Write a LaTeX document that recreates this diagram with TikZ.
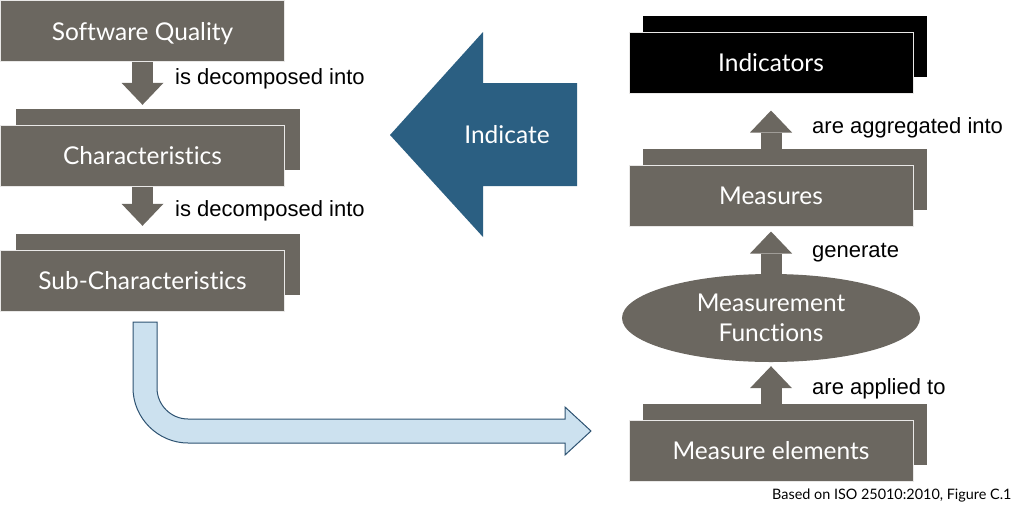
\documentclass[tikz,border=0pt]{standalone}
\usepackage{tikz}
\usepackage{fontspec}
\setmainfont{Lato}[Ligatures=NoCommon]
\newfontfamily\arialfont{Liberation Sans}
\usetikzlibrary{shapes, calc, arrows.meta, positioning}

\definecolor{boxgray}{HTML}{6B6760}
\definecolor{indblue}{HTML}{2B5F82}
\definecolor{flowfill}{HTML}{CCE1EF}
\definecolor{flowline}{HTML}{2E5372}

\begin{document}
\begin{tikzpicture}[x=1pt, y=-1pt,
	frontbox/.style={fill=boxgray, draw=white!85!boxgray, line width=1pt, minimum width=284pt, minimum height=61pt, inner sep=0pt, text depth=0pt, text=white, font=\fontsize{24.5}{29}\selectfont},
	backbox/.style={fill=boxgray, minimum width=284pt, minimum height=61pt, inner sep=0pt},
	boxarrow/.style={line width=21pt, draw=boxgray, -{Triangle[length=22pt, width=42pt, line width=0pt]}},
	verb/.style={anchor=west, inner sep=0pt, font=\arialfont\fontsize{22}{26}\selectfont}]
	\useasboundingbox (0,0) rectangle (1024,512);

	\node[frontbox] (sq) at (142.5,31) {Software Quality};
	\node[backbox] (chb) at (157.5,139.5) {};
	\node[frontbox] (ch) at (142.5,155.5) {Characteristics};
	\node[backbox] (subb) at (157.5,264.5) {};
	\node[frontbox] (sub) at (142.5,280.5) {Sub-Characteristics};

	\node[backbox,fill=black] (indb) at (785,46.5) {};
	\node[frontbox,fill=black] (ind) at (771,62.5) {Indicators};
	\node[backbox] (msb) at (785,179.5) {};
	\node[frontbox] (ms) at (771,195.5) {Measures};
	\node[ellipse, fill=boxgray, minimum width=298pt, minimum height=88pt, inner sep=0pt, text=white, align=center, font=\fontsize{24.5}{30}\selectfont] (mf) at (771,318) {Measurement\\Functions};
	\node[backbox] (meb) at (785,434.5) {};
	\node[frontbox] (me) at (771,450.5) {Measure elements};

	\node[verb] (dec1) at (175,79) {is decomposed into};
	\node[verb] (dec2) at (175,211) {is decomposed into};
	\node[verb] (agg) at (812,128) {are aggregated into};
	\node[verb] (gen) at (812,253) {generate};
	\node[verb] (app) at (812,389) {are applied to};

	\draw[boxarrow, shorten >=4pt] (sq.south) -- (sq.south |- chb.north);
	\draw[boxarrow, shorten >=8pt] (ch.south) -- (ch.south |- subb.north);
	\draw[boxarrow, shorten >=4pt] (me.north |- meb.north) -- (mf.south);
	\draw[boxarrow, shorten >=5pt] (mf.north) -- (ms.south);
	\draw[boxarrow, shorten >=17pt] (ms.north |- msb.north) -- (ind.south);

	\fill[indblue] (390,135) -- (483,32) -- (483,83) -- (577,83) -- (577,186) -- (483,186) -- (483,237) -- cycle;
	\node[text=white, font=\fontsize{24.5}{29}\selectfont] (indic) at (507,135) {Indicate};

	\draw[fill=flowfill, draw=flowline, line width=1pt] (133,322) -- (157,322) -- (157,388) .. controls (157,405) and (171,419) .. (188,419) -- (565,419) -- (565,407) -- (591,431) -- (565,455) -- (565,443) -- (188,443) .. controls (158,443) and (133,418) .. (133,388) -- cycle;

	\node[anchor=east, font=\fontsize{14.4}{17}\selectfont] (src) at (1015,495) {Based on ISO 25010:2010, Figure C.1};
\end{tikzpicture}
\end{document}
